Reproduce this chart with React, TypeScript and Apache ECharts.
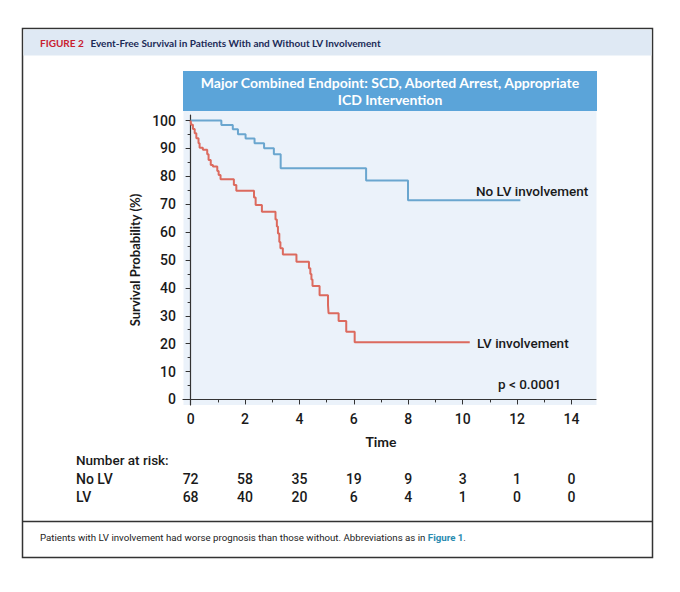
import React, { useEffect, useRef } from "react";
import * as echarts from "echarts";

// ---- data ----
const noLvTimes = [0, 1.13, 1.55, 1.74, 2.02, 2.35, 2.7, 3.06, 3.31, 6.45, 7.99, 12.12];
const noLvSurv = [100, 98.4, 96.9, 95.1, 93.6, 91.9, 90.1, 87.9, 82.9, 78.5, 71.4, 71.4];

const lvTimes = [
  0, 0.02, 0.085, 0.15, 0.21, 0.29, 0.33, 0.45, 0.61, 0.66, 0.74, 0.82, 0.98, 1.03, 1.1, 1.59, 1.68,
  2.33, 2.39, 2.62, 3.12, 3.17, 3.21, 3.26, 3.3, 3.39, 3.89, 4.35, 4.4, 4.44, 4.48, 4.74, 5.05, 5.07,
  5.44, 5.72, 6.03, 10.26,
];
const lvSurv = [
  100, 98.5, 97.0, 95.5, 93.7, 91.9, 90.3, 89.5, 87.9, 85.9, 84.1, 83.5, 81.9, 80.5, 79.0, 76.9, 74.8,
  72.4, 69.7, 67.3, 64.5, 62.0, 59.5, 56.5, 54.2, 52.0, 49.4, 47.0, 45.0, 43.0, 40.7, 37.4, 33.8, 30.9,
  28.1, 24.3, 20.5, 20.5,
];

const riskTimes = [0, 2, 4, 6, 8, 10, 12, 14];
const riskNoLv = [72, 58, 35, 19, 9, 3, 1, 0];
const riskLv = [68, 40, 20, 6, 4, 1, 0, 0];
const riskRows = ["No LV", "LV"];

const yMajor = [0, 10, 20, 30, 40, 50, 60, 70, 80, 90, 100];
const yMinor = [5, 15, 25, 35, 45, 55, 65, 75, 85, 95];
const xMajor = [0, 2, 4, 6, 8, 10, 12, 14];
const xMinor = [1, 3, 5, 7, 9, 11, 13];

const FONT = "Roboto";
const W = 500;
const BOLDFONT = "Lato";
const BLUE = "#6aa6cf";
const RED = "#dc6a5e";
const INK = "#1a1a1a";

export default function App() {
  const ref = useRef<HTMLDivElement>(null);
  useEffect(() => {
    const chart = echarts.init(ref.current!, null, { renderer: "svg" });
    const xMin = -0.28;
    const xMax = 14.9;
    const option: any = {
      animation: false,
      backgroundColor: "#ffffff",
      textStyle: { fontFamily: FONT },
      grid: [
        { left: 183, top: 115, width: 413, height: 290, outerBoundsMode: "none", containLabel: false },
        { left: 183, top: 470, width: 413, height: 36, outerBoundsMode: "none", containLabel: false },
      ],
      xAxis: [
        {
          type: "value", gridIndex: 0, min: xMin, max: xMax,
          axisLine: { show: true, lineStyle: { color: "#333", width: 1.2 } },
          axisTick: { show: true, customValues: xMajor, length: 5, lineStyle: { color: "#333" } },
          axisLabel: { customValues: xMajor, fontSize: 14, fontWeight: W, color: INK, margin: 7, fontFamily: FONT },
          splitLine: { show: false },
        },
        {
          type: "value", gridIndex: 0, min: xMin, max: xMax, position: "bottom",
          axisLine: { show: false },
          axisTick: { show: true, customValues: xMinor, length: 3, lineStyle: { color: "#333" } },
          axisLabel: { show: false },
          splitLine: { show: false },
        },
        {
          type: "value", gridIndex: 1, min: xMin, max: xMax, show: false,
        },
      ],
      yAxis: [
        {
          type: "value", gridIndex: 0, min: -2, max: 102,
          axisLine: { show: true, lineStyle: { color: "#333", width: 1.2 } },
          axisTick: { show: true, customValues: yMajor, length: 5, lineStyle: { color: "#333" } },
          axisLabel: { customValues: yMajor, fontSize: 14, fontWeight: W, color: INK, margin: 7, fontFamily: FONT },
          splitLine: { show: false },
          name: "Survival Probability (%)",
          nameLocation: "middle",
          nameGap: 35,
          nameTextStyle: { fontSize: 13, fontWeight: "bold", color: INK, fontFamily: BOLDFONT },
        },
        {
          type: "value", gridIndex: 0, min: -2, max: 102, position: "left",
          axisLine: { show: false },
          axisTick: { show: true, customValues: yMinor, length: 3, lineStyle: { color: "#333" } },
          axisLabel: { show: false },
          splitLine: { show: false },
        },
        {
          type: "category", gridIndex: 1, data: riskRows, inverse: true,
          axisLine: { show: false }, axisTick: { show: false },
          axisLabel: { interval: 0, align: "left", margin: 107, fontSize: 14, fontWeight: W, color: INK, fontFamily: FONT },
        },
      ],
      series: [
        {
          type: "line", xAxisIndex: 0, yAxisIndex: 0, step: "end", showSymbol: false,
          lineStyle: { color: BLUE, width: 2 },
          data: noLvTimes.map((t, i) => [t, noLvSurv[i]]),
          z: 3,
        },
        {
          type: "line", xAxisIndex: 0, yAxisIndex: 0, step: "end", showSymbol: false,
          lineStyle: { color: RED, width: 2 },
          data: lvTimes.map((t, i) => [t, lvSurv[i]]),
          z: 3,
        },
        {
          type: "scatter", xAxisIndex: 2, yAxisIndex: 2, symbolSize: 1,
          itemStyle: { color: INK, opacity: 0 },
          label: {
            show: true, position: "inside", fontSize: 14, fontWeight: W, color: INK, fontFamily: FONT,
            textBorderWidth: 0, opacity: 1,
            formatter: (p: any) => String(p.value[2]),
          },
          emphasis: { disabled: true },
          data: [
            ...riskTimes.map((t, i) => [t, riskRows[0], riskNoLv[i]]),
            ...riskTimes.map((t, i) => [t, riskRows[1], riskLv[i]]),
          ],
        },
      ],
      graphic: [
        // outer frame
        { type: "rect", shape: { x: 22.5, y: 28.5, width: 630, height: 529 }, style: { fill: "#fff", stroke: "#333", lineWidth: 1.5 }, z: -10 },
        { type: "rect", shape: { x: 23.5, y: 29.5, width: 628, height: 26 }, style: { fill: "#dfe9f4" }, z: -9 },
        {
          type: "text", x: 40, y: 43, z: 5,
          style: {
            text: "{r|FIGURE 2}  {t|Event-Free Survival in Patients With and Without LV Involvement}",
            verticalAlign: "middle",
            rich: {
              r: { fill: "#c8202f", fontSize: 10, fontWeight: "bold", fontFamily: BOLDFONT },
              t: { fill: "#1b2a57", fontSize: 10, fontWeight: "bold", fontFamily: BOLDFONT },
            },
          },
        },
        { type: "line", shape: { x1: 22.5, y1: 521.5, x2: 652.5, y2: 521.5 }, style: { stroke: "#333", lineWidth: 1.5 }, z: 5 },
        {
          type: "text", x: 40, y: 537, z: 5,
          style: {
            text: "{n|Patients with LV involvement had worse prognosis than those without. Abbreviations as in }{b|Figure 1}{n|.}",
            verticalAlign: "middle",
            rich: {
              n: { fill: "#222", fontSize: 9.7, fontFamily: FONT },
              b: { fill: "#2a8bb0", fontSize: 9.7, fontWeight: "bold", fontFamily: FONT },
            },
          },
        },
        // plot background and title box
        { type: "rect", shape: { x: 183.5, y: 110, width: 413, height: 295 }, style: { fill: "#ebf2fa" }, z: -5 },
        { type: "rect", shape: { x: 183, y: 71, width: 414, height: 40 }, style: { fill: "#5ba4d9" }, z: 1 },
        {
          type: "text", x: 390, y: 91, z: 2,
          style: {
            text: "Major Combined Endpoint: SCD, Aborted Arrest, Appropriate\nICD Intervention",
            align: "center", verticalAlign: "middle", fill: "#fff", fontSize: 14, fontWeight: "bold",
            lineHeight: 17, fontFamily: BOLDFONT,
          },
        },
        { type: "text", x: 476, y: 191, z: 5, style: { text: "No LV involvement", fill: INK, fontSize: 13.5, fontWeight: W, verticalAlign: "middle", fontFamily: FONT } },
        { type: "text", x: 477, y: 343, z: 5, style: { text: "LV involvement", fill: INK, fontSize: 13.5, fontWeight: W, verticalAlign: "middle", fontFamily: FONT } },
        { type: "text", x: 498, y: 384, z: 5, style: { text: "p < 0.0001", fill: INK, fontSize: 13.5, fontWeight: W, verticalAlign: "middle", fontFamily: FONT } },
        { type: "text", x: 381, y: 441, z: 5, style: { text: "Time", fill: INK, fontSize: 14, fontWeight: "bold", align: "center", verticalAlign: "middle", fontFamily: BOLDFONT } },
        { type: "text", x: 76, y: 460, z: 5, style: { text: "Number at risk:", fill: INK, fontSize: 13.5, fontWeight: W, verticalAlign: "middle", fontFamily: FONT } },
      ],
    };
    chart.setOption(option);
    return () => chart.dispose();
  }, []);
  return (
    <div
      ref={ref}
      style={{ position: "fixed", left: 0, top: 0, width: 680, height: 592, background: "#fff" }}
    />
  );
}
